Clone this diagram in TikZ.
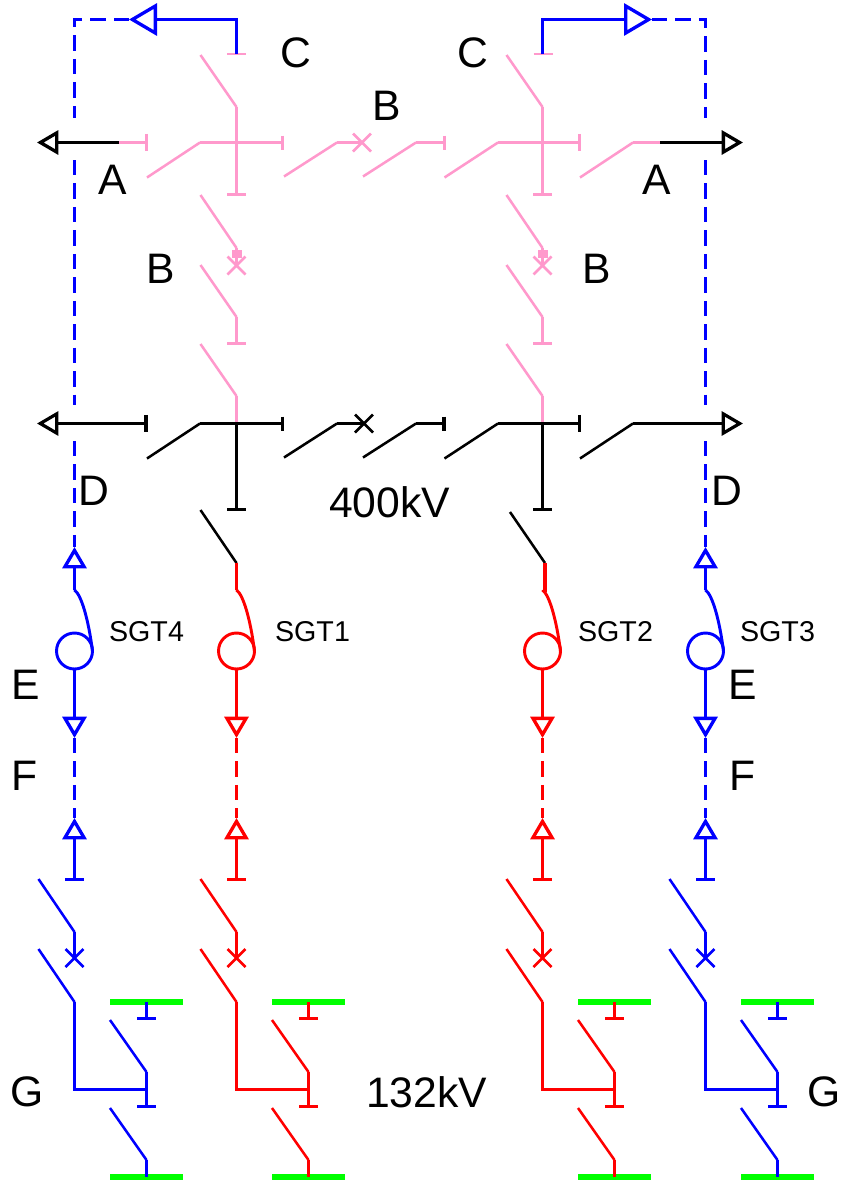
\documentclass[tikz,border=0pt]{standalone}
\usepackage{fontspec}
\setmainfont{Liberation Sans}
\usepackage{xcolor}
\usepackage{tikz}
\usetikzlibrary{arrows.meta,
                shapes.misc}
\definecolor{pinkbus}{HTML}{FF99CC}
\definecolor{barsgreen}{HTML}{00FF00}
\tikzset{
  wire/.style={line width=2.5pt},
  blade/.style={line width=1.9pt},
  link/.style={line width=2.5pt,dash pattern=on 11.6pt off 6pt},
  tee/.style={-{Bar[width=#1]}},
  bigtip/.style={-{Triangle[open,length=21pt,width=24pt]}},
  smalltip/.style={-{Triangle[open,length=16pt,width=18pt]}},
  breaker/.style={cross out,draw,line width=2pt,inner sep=0pt,outer sep=0pt,minimum size=13.5pt},
  tx/.style={circle,draw,line width=2.2pt,inner sep=0pt,outer sep=0pt,minimum size=27pt},
  biglabel/.style={font=\fontsize{32}{36}\selectfont,inner sep=0pt},
  sgtlabel/.style={font=\fontsize{21.5}{25}\selectfont,inner sep=0pt}
}
\begin{document}
\begin{tikzpicture}[x=0.75pt,y=-0.75pt]
\useasboundingbox (0,0) rectangle (841,1182);

% 400kV bays
\foreach \x in {236.5,542.5}{
  \draw[pinkbus,blade] (\x-36,55) -- (\x,107);
  \draw[pinkbus,blade] (\x-36,195) -- (\x,248);
  \draw[pinkbus,blade] (\x-36,265) -- (\x,317);
  \draw[pinkbus,blade] (\x-36,344) -- (\x,396);
  \draw[pinkbus,line width=2.1pt,tee=14pt] (\x,107) -- (\x,196);
  \draw[pinkbus,blade] (\x,248) -- (\x,265);
  \draw[pinkbus,line width=2.1pt,tee=14pt] (\x,317) -- (\x,345);
  \draw[pinkbus,line width=2.1pt] (\x,396) -- (\x,423);
  \fill[pinkbus] (\x-5,250) rectangle (\x+5,258);
  \draw[black,wire,tee=14pt] (\x,423) -- (\x,511);
}
\node[breaker,pinkbus] (brkb1) at (236.5,265.5) {};
\node[breaker,pinkbus] (brkb2) at (542.5,265.5) {};

% the two bars
\foreach \r/\y/\col/\cx/\lw in {1/142.5/pinkbus/362/2.1pt,2/423.5/black/364/2.4pt}{
  \node[breaker,\col] (brk\r) at (\cx,\y) {};
  \draw[\col,blade] (147,\y+35) -- (200,\y);
  \draw[\col,line width=\lw,tee=10.5pt] (200,\y) -- (284,\y);
  \draw[\col,blade] (284,\y+34) -- (337,\y);
  \draw[\col,line width=\lw] (337,\y) -- (brk\r.center);
  \draw[\col,blade] (363,\y+34) -- (416,\y);
  \draw[\col,line width=\lw,tee=10.5pt] (416,\y) -- (445.5,\y);
  \draw[\col,blade] (444.5,\y+35) -- (498,\y);
  \draw[\col,line width=\lw,tee=13pt] (498,\y) -- (581,\y);
  \draw[\col,blade] (580,\y+35) -- (633,\y);
}
% feeders
\coordinate (feedAl) at (37,142.5);
\coordinate (feedAr) at (743,142.5);
\coordinate (feedDl) at (37,423.5);
\coordinate (feedDr) at (743,423.5);
\draw[wire,smalltip] (119,142.5) -- (feedAl);
\draw[pinkbus,line width=2.1pt,tee=13pt] (119,142.5) -- (147.5,142.5);
\draw[pinkbus,line width=2.1pt] (633,142.5) -- (660,142.5);
\draw[wire,smalltip] (660,142.5) -- (feedAr);
\draw[line width=2.4pt,{Triangle[open,length=16pt,width=18pt]}-{Bar[width=13pt]}] (feedDl) -- (147.5,423.5);
\draw[line width=2.4pt,smalltip] (633,423.5) -- (feedDr);

% top links
\coordinate (ctopl) at (236.5,54);
\coordinate (ctopr) at (542.5,54);
\coordinate (cornl) at (74.5,19.5);
\coordinate (cornr) at (705.5,19.5);
\draw[pinkbus,line width=2.1pt] (227,54) -- (246,54);
\draw[pinkbus,line width=2.1pt] (533.5,54) -- (552.5,54);
\draw[blue,wire,bigtip] (ctopl) -- (236.5,19.5) -- (129,19.5);
\draw[blue,wire,bigtip] (ctopr) -- (542.5,19.5) -- (652,19.5);
\draw[blue,link] (129,19.5) -- (cornl) -- (74.5,118);
\draw[blue,link] (652,19.5) -- (cornr) -- (705.5,118);
\foreach \x in {74.5,705.5}{
  \draw[blue,link] (\x,160) -- (\x,405);
  \draw[blue,link] (\x,441) -- (\x,547);
  \draw[blue,wire,smalltip] (\x,590) -- (\x,547);
}
\draw[black,blade] (200.5,510) -- (236.5,563);
\draw[black,blade] (510,512) -- (545,563);
\draw[red,wire] (236.5,563) -- (236.5,590);
\draw[red,wire] (545,563) -- (545,590) -- (542.5,590);

% transformers and 132kV side
\foreach \n/\x/\col in {4/74.5/blue,1/236.5/red,2/542.5/red,3/705.5/blue}{
  \pgfmathsetmacro{\br}{\x+72}
  \node[tx,\col] (sgt\n) at (\x,651) {};
  \coordinate (low\n) at (\x,738);
  \coordinate (up\n) at (\x,818);
  \coordinate (bus\n) at (\br,1002);
  \coordinate (bot\n) at (\br,1177);
  \draw[\col,line width=2.2pt] (\x,590) .. controls (\x+7,595) and (\x+14,620) .. (sgt\n.east);
  \draw[\col,wire,smalltip] (sgt\n.south) -- (low\n);
  \draw[\col,link] (low\n) -- (up\n);
  \draw[\col,wire,smalltip] (\x,880) -- (up\n);
  \draw[\col,wire] (\x-9.5,879.5) -- (\x+9.5,879.5);
  \draw[\col,blade] (\x-36,879) -- (\x,932);
  \node[breaker,\col] (brkl\n) at (\x,958) {};
  \draw[\col,wire] (\x,932) -- (brkl\n.center);
  \draw[\col,blade] (\x-36,949) -- (\x,1002);
  \draw[\col,wire] (\x,1002) -- (\x,1089.5) -- (\br,1089.5);
  \draw[barsgreen,line width=4.5pt] (\br-36.5,1002) -- (\br+36.5,1002);
  \draw[barsgreen,line width=4.5pt] (\br-36.5,1177) -- (\br+36.5,1177);
  \draw[\col,wire,tee=14pt] (bus\n) -- (\br,1020);
  \draw[\col,blade] (\br-36.5,1020) -- (\br,1072);
  \draw[\col,wire,tee=14pt] (\br,1072) -- (\br,1108);
  \draw[\col,blade] (\br-36.5,1108) -- (\br,1160);
  \draw[\col,wire] (\br,1160) -- (bot\n);
}

% labels
\foreach \nm/\x/\y/\t in {lc1/295.5/53/C,lc2/472.5/53/C,lb1/386.5/106/B,la1/112.5/180/A,la2/656.5/180/A,
    lb2/160.5/269/B,lb3/596.5/269/B,ld1/93.5/491/D,ld2/726.5/491/D,lhv/389.5/502/400kV,
    le1/25.5/685/E,le2/742.5/685/E,lf1/24.5/776/F,lf2/742.5/776/F,
    lg1/27.5/1092/G,lg2/824.5/1092/G,llv/426.5/1092/132kV}
  \node[biglabel] (\nm) at (\x,\y) {\t};
\foreach \n/\x in {4/146.5,1/312.5,2/615.5,3/777.5}
  \node[sgtlabel] (lsgt\n) at (\x,632) {SGT\n};
\end{tikzpicture}
\end{document}
